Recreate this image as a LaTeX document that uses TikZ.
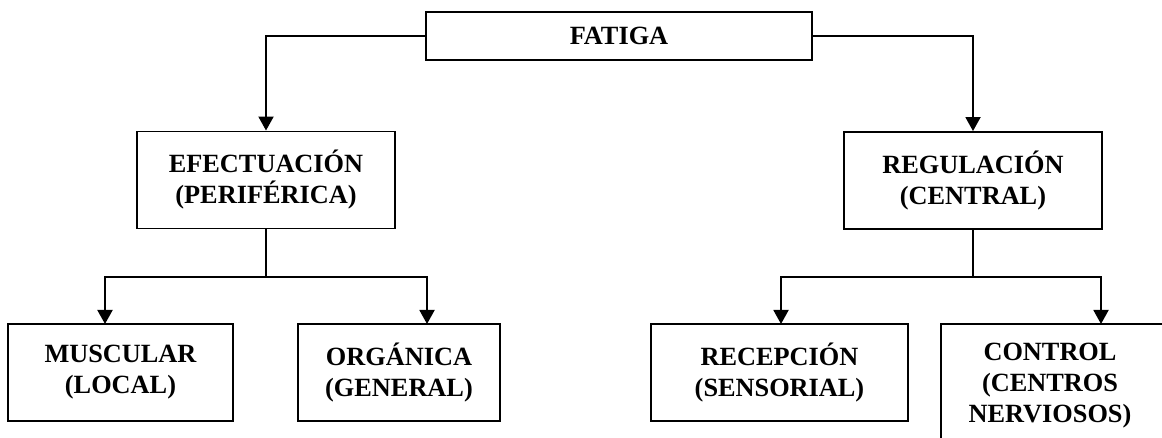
\documentclass[tikz,border=0pt]{standalone}
\usepackage{fontspec}
\setmainfont{Liberation Serif}
\usetikzlibrary{arrows.meta}
\begin{document}
\begin{tikzpicture}[x=1pt,y=-1pt,
  every node/.style={font=\bfseries\fontsize{26.3}{31}\selectfont, align=center, inner sep=0pt},
  boxnode/.style={draw, line width=1.9pt, minimum height=97pt},
  conn/.style={line width=1.9pt},
  arr/.style={conn, -{Triangle[length=14pt,width=15pt]}}]
  \useasboundingbox (0,0) rectangle (1162,438);

  % top level
  \node[boxnode, minimum width=386pt, minimum height=48pt] (fatiga) at (619,36) {FATIGA};

  % second level
  \node[boxnode, minimum width=258pt] (efect) at (266,180) {EFECTUACIÓN\\(PERIFÉRICA)};
  \node[boxnode, minimum width=258pt] (regul) at (973,180.5) {REGULACIÓN\\(CENTRAL)};

  % third level
  \node[boxnode, minimum width=225pt] (musc) at (120.5,372.5) {MUSCULAR\\(LOCAL)};
  \node[boxnode, minimum width=202pt] (org) at (399,372.5) {ORGÁNICA\\(GENERAL)};
  \node[boxnode, minimum width=257pt] (recep) at (779.5,372.5) {RECEPCIÓN\\(SENSORIAL)};
  \node (control) at (1050,386) {CONTROL\\(CENTROS\\NERVIOSOS)};
  % open frame around the last box (runs off the page)
  \draw[conn] (941,440) -- (941,324) -- (1165,324);

  % branch points and arrow landing points
  \coordinate (lbar) at (266,277);
  \coordinate (rbar) at (973,277);
  \coordinate (muscIn) at (105,324);
  \coordinate (orgIn) at (427,324);
  \coordinate (recepIn) at (781,324);
  \coordinate (controlIn) at (1101,324);

  % connectors
  \draw[arr] (fatiga.west) -| (efect.north);
  \draw[arr] (fatiga.east) -| (regul.north);

  \draw[conn] (efect.south) -- (lbar);
  \draw[arr] (lbar) -| (muscIn);
  \draw[arr] (lbar) -| (orgIn);

  \draw[conn] (regul.south) -- (rbar);
  \draw[arr] (rbar) -| (recepIn);
  \draw[arr] (rbar) -| (controlIn);
\end{tikzpicture}
\end{document}
